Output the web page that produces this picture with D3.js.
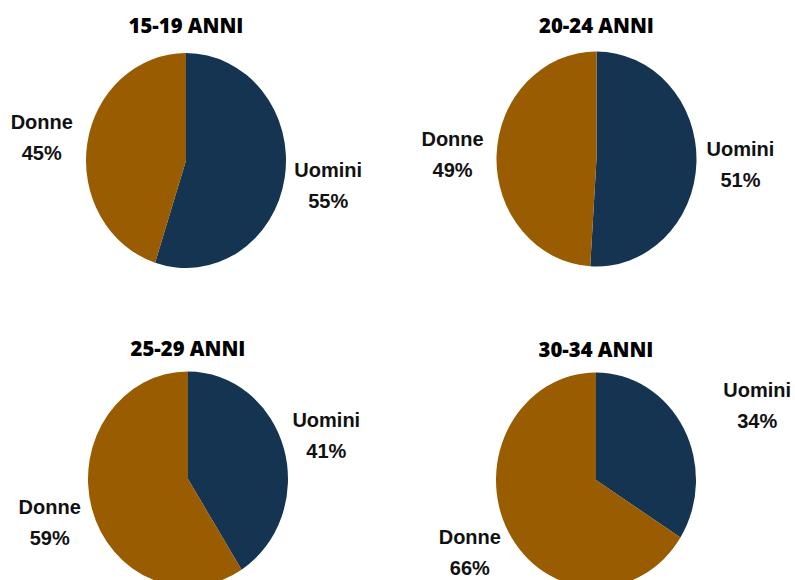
<!DOCTYPE html>
<html><head><meta charset="utf-8">
<script src="https://cdn.jsdelivr.net/npm/d3@7"></script>
<style>body{margin:0;background:#fff}svg{display:block}</style>
</head><body>
<script>
// ---- data ----
const panelTitles = ["15-19 ANNI", "20-24 ANNI", "25-29 ANNI", "30-34 ANNI"];
const categories = ["Uomini", "Donne"];
const uominiPct = [55, 51, 41, 34];
const donnePct = [45, 49, 59, 66];

// ---- layout / style ----
const W = 795, H = 580;
const colors = {Uomini: "#143452", Donne: "#995c00"};
const centers = [[186, 160.5], [596.5, 159], [188, 479], [596, 480]];
const rx = 100, yStretch = 1.075;
const titleY = [33, 33, 356, 357];
const labelK = 1.44;
const labelNudge = [[[0,1],[-2,1]], [[0,1],[0,0]], [[0,0],[0,0]], [[35,0],[0,-2]]];

const svg = d3.select("body").append("svg").attr("width", W).attr("height", H);
const color = d3.scaleOrdinal().domain(categories).range([colors.Uomini, colors.Donne]);
const pie = d3.pie().sort(null).value(d => d.v);
const arc = d3.arc().innerRadius(0).outerRadius(rx);

panelTitles.forEach((t, i) => {
  const data = [{k: "Uomini", v: uominiPct[i]}, {k: "Donne", v: donnePct[i]}];
  const [cx, cy] = centers[i];
  const g = svg.append("g");
  g.append("text").attr("x", cx).attr("y", titleY[i]).attr("text-anchor", "middle")
    .style("font-family", "'Open Sans'").style("font-weight", 800).style("font-size", "20.3px")
    .attr("fill", "#000").text(t);
  const arcs = pie(data);
  g.append("g").attr("transform", `translate(${cx},${cy}) scale(1,${yStretch})`)
    .selectAll("path").data(arcs).join("path")
    .attr("d", arc).attr("fill", d => color(d.data.k));
  arcs.forEach((a, j) => {
    const m = (a.startAngle + a.endAngle) / 2;
    const lx = cx + rx * labelK * Math.sin(m) + labelNudge[i][j][0];
    const ly = cy - rx * yStretch * labelK * Math.cos(m) + labelNudge[i][j][1];
    const txt = g.append("text").attr("text-anchor", "middle")
      .style("font-family", "'Liberation Sans', Arial").style("font-weight", 700).style("font-size", "20px")
      .attr("fill", "#111");
    txt.append("tspan").attr("x", lx).attr("y", ly - 8.5).text(a.data.k);
    txt.append("tspan").attr("x", lx).attr("y", ly + 22.5).text(a.data.v + "%");
  });
});
</script>
</body></html>
